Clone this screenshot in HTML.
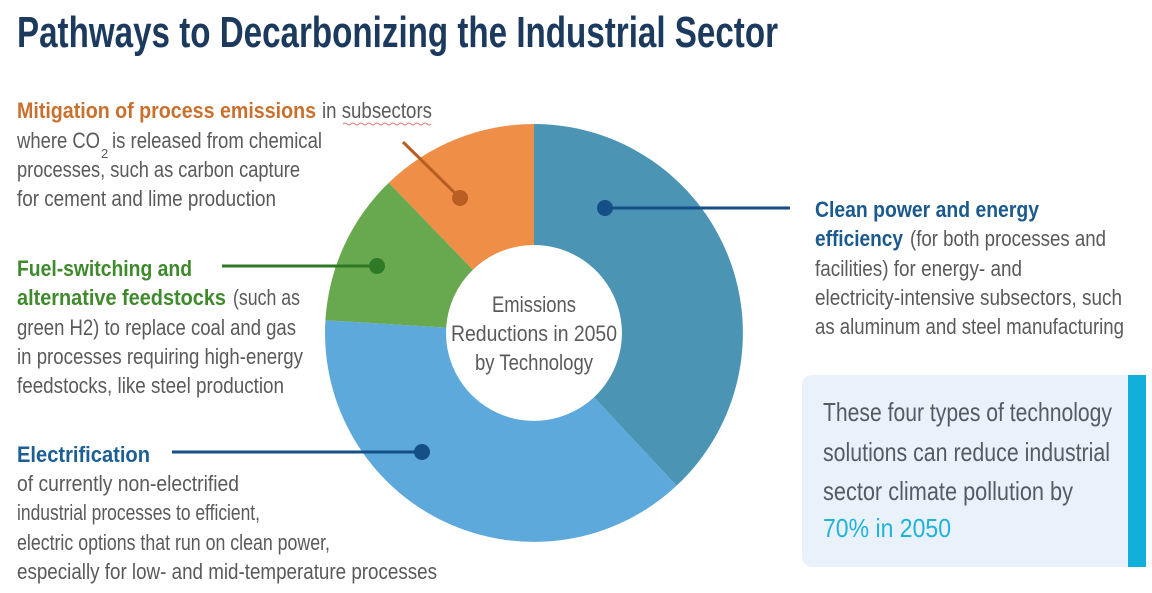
<!DOCTYPE html>
<html><head><meta charset="utf-8"><style>
html,body{margin:0;padding:0;background:#fff;}
svg{display:block;}
text{font-family:"Liberation Sans Narrow","Liberation Sans",sans-serif;font-size:22px;fill:#5a5a5a;}
.b{font-weight:bold;}
</style></head><body>
<svg width="1152" height="593" viewBox="0 0 1152 593" xmlns="http://www.w3.org/2000/svg">
<rect width="1152" height="593" fill="#fff"/>
<text x="17" y="47" class="b" style="font-size:44px;fill:#1b3a5e" textLength="761" lengthAdjust="spacingAndGlyphs">Pathways to Decarbonizing the Industrial Sector</text>

<!-- donut -->
<path d="M534 124 A209 209 0 0 1 676.5 485.8 L594 397.3 A88 88 0 0 0 534 245 Z" fill="#4b94b4"/>
<path d="M676.5 485.8 A209 209 0 0 1 325.4 320.2 L446.2 327.6 A88 88 0 0 0 594 397.3 Z" fill="#5ea9db"/>
<path d="M325.4 320.2 A209 209 0 0 1 388.8 182.7 L472.9 269.7 A88 88 0 0 0 446.2 327.6 Z" fill="#68a84f"/>
<path d="M388.8 182.7 A209 209 0 0 1 534 124 L534 245 A88 88 0 0 0 472.9 269.7 Z" fill="#ef8f47"/>

<!-- leaders -->
<line x1="403" y1="142" x2="460" y2="198" stroke="#b85e22" stroke-width="3"/>
<circle cx="460" cy="198" r="8" fill="#b85e22"/>
<line x1="222" y1="266" x2="377" y2="266" stroke="#2f7a26" stroke-width="3"/>
<circle cx="377" cy="266" r="8" fill="#2f7a26"/>
<line x1="172" y1="452" x2="422" y2="452" stroke="#144f86" stroke-width="3"/>
<circle cx="422" cy="452" r="8" fill="#144f86"/>
<line x1="605" y1="208" x2="790" y2="208" stroke="#144f86" stroke-width="3"/>
<circle cx="605" cy="208" r="8" fill="#144f86"/>

<!-- center -->
<text x="534" y="312" text-anchor="middle" textLength="84" lengthAdjust="spacingAndGlyphs">Emissions</text>
<text x="534" y="341" text-anchor="middle" textLength="166" lengthAdjust="spacingAndGlyphs">Reductions in 2050</text>
<text x="534" y="370" text-anchor="middle" textLength="118" lengthAdjust="spacingAndGlyphs">by Technology</text>

<!-- orange -->
<text x="17" y="118" class="b" style="fill:#c9702e" textLength="299" lengthAdjust="spacingAndGlyphs">Mitigation of process emissions</text>
<text x="322" y="118" textLength="110" lengthAdjust="spacingAndGlyphs">in subsectors</text>
<path d="M343 124 q2 -2 4 0 t4 0 t4 0 t4 0 t4 0 t4 0 t4 0 t4 0 t4 0 t4 0 t4 0 t4 0 t4 0 t4 0 t4 0 t4 0 t4 0 t4 0 t4 0 t4 0 t4 0 t4 0" fill="none" stroke="#e07a7a" stroke-width="1"/>
<text x="17" y="148" textLength="83" lengthAdjust="spacingAndGlyphs">where CO</text>
<text x="101" y="158" style="font-size:13px">2</text>
<text x="112" y="148" textLength="210" lengthAdjust="spacingAndGlyphs">is released from chemical</text>
<text x="17" y="177" textLength="283" lengthAdjust="spacingAndGlyphs">processes, such as carbon capture</text>
<text x="17" y="206" textLength="259" lengthAdjust="spacingAndGlyphs">for cement and lime production</text>

<!-- green -->
<text x="17" y="276" class="b" style="fill:#3f8a2c" textLength="175" lengthAdjust="spacingAndGlyphs">Fuel-switching and</text>
<text x="17" y="305" class="b" style="fill:#3f8a2c" textLength="209" lengthAdjust="spacingAndGlyphs">alternative feedstocks</text>
<text x="233" y="305" textLength="67" lengthAdjust="spacingAndGlyphs">(such as</text>
<text x="17" y="335" textLength="279" lengthAdjust="spacingAndGlyphs">green H2) to replace coal and gas</text>
<text x="17" y="364" textLength="286" lengthAdjust="spacingAndGlyphs">in processes requiring high-energy</text>
<text x="17" y="393" textLength="267" lengthAdjust="spacingAndGlyphs">feedstocks, like steel production</text>

<!-- electrification -->
<text x="17" y="462" class="b" style="fill:#1d5f95" textLength="133" lengthAdjust="spacingAndGlyphs">Electrification</text>
<text x="17" y="491" textLength="222" lengthAdjust="spacingAndGlyphs">of currently non-electrified</text>
<text x="17" y="520" textLength="243" lengthAdjust="spacingAndGlyphs">industrial processes to efficient,</text>
<text x="17" y="550" textLength="313" lengthAdjust="spacingAndGlyphs">electric options that run on clean power,</text>
<text x="17" y="579" textLength="420" lengthAdjust="spacingAndGlyphs">especially for low- and mid-temperature processes</text>

<!-- clean power -->
<text x="815" y="217" class="b" style="fill:#1b5a8e" textLength="224" lengthAdjust="spacingAndGlyphs">Clean power and energy</text>
<text x="815" y="246" class="b" style="fill:#1b5a8e" textLength="88" lengthAdjust="spacingAndGlyphs">efficiency</text>
<text x="910" y="246" textLength="196" lengthAdjust="spacingAndGlyphs">(for both processes and</text>
<text x="815" y="276" textLength="207" lengthAdjust="spacingAndGlyphs">facilities) for energy- and</text>
<text x="815" y="305" textLength="307" lengthAdjust="spacingAndGlyphs">electricity-intensive subsectors, such</text>
<text x="815" y="334" textLength="309" lengthAdjust="spacingAndGlyphs">as aluminum and steel manufacturing</text>

<!-- box -->
<rect x="802" y="375" width="340" height="192" rx="10" fill="#e9f1fb"/>
<rect x="1128" y="375" width="18" height="192" fill="#12afdb"/>
<text x="823" y="421" style="font-size:26px;fill:#555b62" textLength="289" lengthAdjust="spacingAndGlyphs">These four types of technology</text>
<text x="823" y="461" style="font-size:26px;fill:#555b62" textLength="287" lengthAdjust="spacingAndGlyphs">solutions can reduce industrial</text>
<text x="823" y="500" style="font-size:26px;fill:#555b62" textLength="250" lengthAdjust="spacingAndGlyphs">sector climate pollution by</text>
<text x="823" y="537" style="font-size:26px;fill:#1fb3d8" textLength="128" lengthAdjust="spacingAndGlyphs">70% in 2050</text>
</svg>
</body></html>
